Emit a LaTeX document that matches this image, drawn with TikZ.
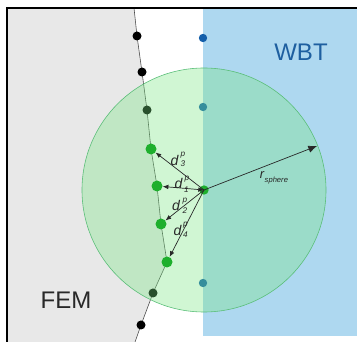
\documentclass[tikz,border=0pt]{standalone}
\usepackage{fontspec}
\setmainfont{Liberation Sans}
\usetikzlibrary{arrows.meta}
\definecolor{femgray}{RGB}{232,232,232}
\definecolor{wbtblue}{RGB}{174,216,240}
\definecolor{sph}{RGB}{120,230,130}
\definecolor{sphline}{RGB}{90,190,120}
\definecolor{gdot}{RGB}{30,175,45}
\definecolor{bdot}{RGB}{20,95,170}
\definecolor{wbttext}{RGB}{30,95,160}
\definecolor{txt}{RGB}{40,40,40}
\begin{document}
\begin{tikzpicture}[x=0.03cm,y=-0.03cm,
  blackdot/.style={circle,fill=black,inner sep=0pt,minimum size=0.27cm},
  bluedot/.style={circle,fill=bdot,inner sep=0pt,minimum size=0.25cm},
  greendot/.style={circle,fill=gdot,inner sep=0pt,minimum size=0.33cm},
  dist/.style={draw=txt,line width=0.6pt,-{Latex[length=1.7mm,width=1.4mm]}},
  dmain/.style={text=txt,font=\fontsize{12}{12}\selectfont\itshape,inner sep=0pt},
  dsmall/.style={text=txt,font=\fontsize{7}{7}\selectfont\itshape,inner sep=0pt},
  bigtext/.style={font=\fontsize{20.5}{24}\selectfont,inner sep=0pt}]
\useasboundingbox (0,0) rectangle (357,342);
\clip (0,0) rectangle (357,342);
% regions
\fill[femgray] (7,8) -- (134,8) -- (137,36) -- (142,72) -- (147,110) -- (151,149) -- (157,186) -- (161,224) -- (167,262) -- (153,293) -- (141,325) -- (134,345) -- (7,345) -- cycle;
\fill[wbtblue] (203,8) rectangle (360,336);
% boundary line and points
\coordinate (ltop) at (134,8);
\coordinate (lbot) at (134,345);
\coordinate (b1) at (137,36);
\coordinate (b2) at (142,72);
\coordinate (b3) at (147,110);
\coordinate (b4) at (153,293);
\coordinate (b5) at (141,325);
\coordinate (g3c) at (151,149);
\coordinate (g1c) at (157,186);
\coordinate (g2c) at (161,224);
\coordinate (g4c) at (167,262);
\draw[line width=0.5pt,draw=black!70] (ltop) -- (b1) -- (b2) -- (b3) -- (g3c) -- (g1c) -- (g2c) -- (g4c) -- (b4) -- (b5) -- (lbot);
\node[blackdot] (n1) at (b1) {};
\node[blackdot] (n2) at (b2) {};
\node[blackdot] (n3) at (b3) {};
\node[blackdot] (n4) at (b4) {};
\node[blackdot] (n5) at (b5) {};
\node[bluedot] (u1) at (203,38) {};
\node[bluedot] (u2) at (203,107) {};
\node[bluedot] (u3) at (203,283) {};
% sphere
\coordinate (c) at (204,190);
\fill[sph,fill opacity=0.35] (c) circle[radius=122];
\draw[sphline,line width=0.5pt] (c) circle[radius=122];
% green points
\node[greendot] (g3) at (g3c) {};
\node[greendot] (g1) at (g1c) {};
\node[greendot] (g2) at (g2c) {};
\node[greendot] (g4) at (g4c) {};
\node[greendot,minimum size=0.28cm] (p) at (c) {};
% distances
\draw[dist] (p.center) -- (g3);
\draw[dist,{Latex[length=1.7mm,width=1.4mm]}-{Latex[length=1.7mm,width=1.4mm]}] (g1) -- (p.center);
\draw[dist] (p.center) -- (g2);
\draw[dist] (p.center) -- (g4);
\coordinate (rend) at (317,146);
\draw[draw=txt,line width=0.6pt,-{Latex[length=2.6mm,width=2.2mm]}] (p.center) -- (rend);
% labels
\node[dmain] (d3) at (174.5,160) {d};
\node[dsmall] (d3p) at (183,155.5) {p};
\node[dsmall] (d3s) at (183,163.5) {3};
\node[dmain] (d1) at (178.5,183.5) {d};
\node[dsmall] (d1p) at (187,179.5) {p};
\node[dsmall] (d1s) at (186.5,189.5) {1};
\node[dmain] (d2) at (176,205.5) {d};
\node[dsmall] (d2p) at (185,201.5) {p};
\node[dsmall] (d2s) at (185,210.5) {2};
\node[dmain] (d4) at (177.5,230) {d};
\node[dsmall] (d4p) at (185.5,225.5) {p};
\node[dsmall] (d4s) at (185.5,234.5) {4};
\node[text=txt,inner sep=0pt] (lr) at (274,178) {\fontsize{11}{11}\selectfont\textit{r}\raisebox{-0.5ex}{\fontsize{6.5}{6.5}\selectfont\textit{sphere}}};
\node[bigtext,text=wbttext] (wbt) at (301,52) {WBT};
\node[bigtext,text=txt] (fem) at (66,300) {FEM};
% frame
\draw[line width=1.7pt] (7,350) -- (7,8) -- (365,8);
\end{tikzpicture}
\end{document}
